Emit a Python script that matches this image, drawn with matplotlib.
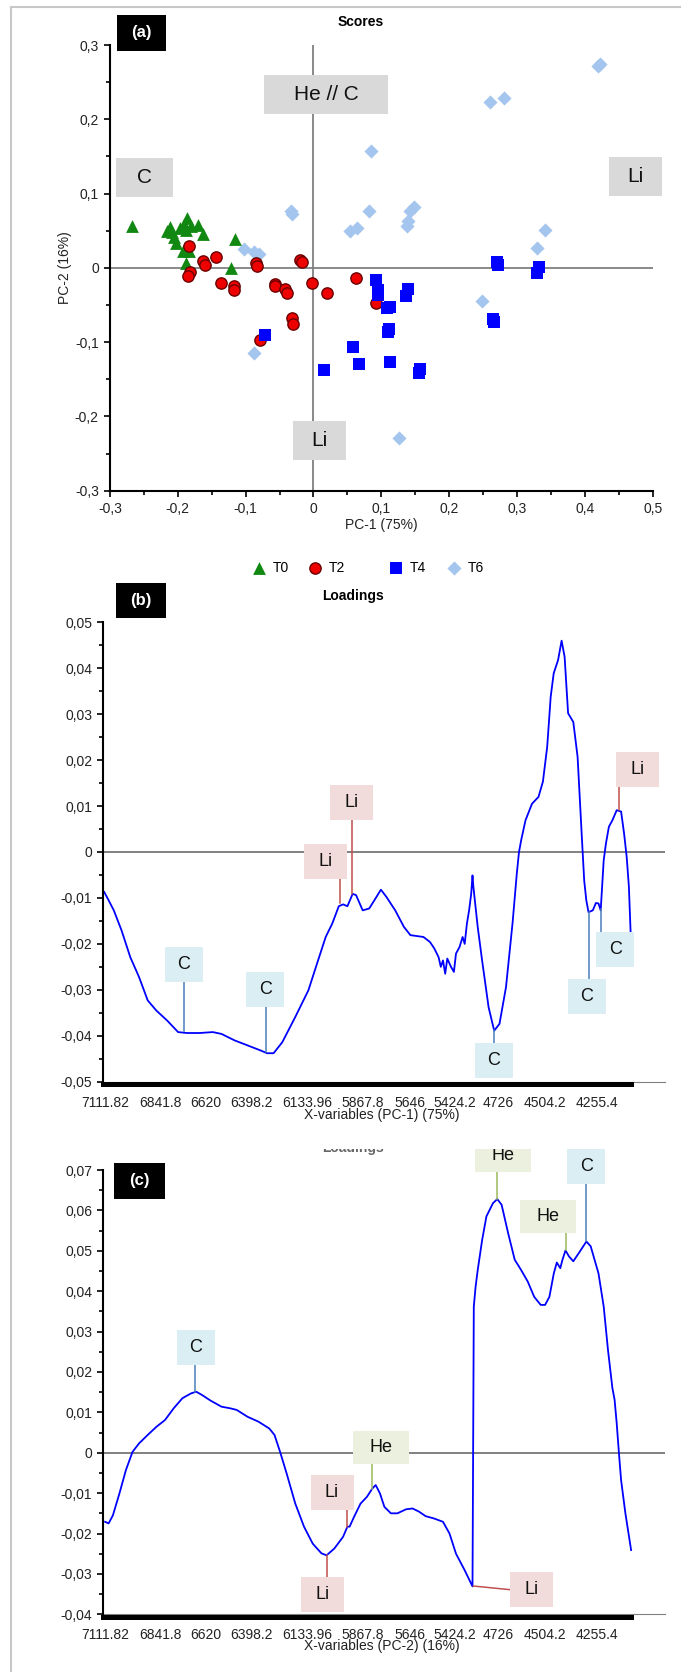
# Recreation of a three-panel PCA figure: scores (a) and loadings on PC-1 (b) and PC-2 (c)

# Imports
import matplotlib
matplotlib.use("Agg")
import matplotlib.pyplot as plt
from matplotlib.patches import Rectangle
from matplotlib.lines import Line2D
from matplotlib.ticker import MultipleLocator
# ============================================

plt.rcParams['font.family'] = ['Liberation Sans', 'DejaVu Sans']

# Data - scores (a)
t0_x = [-0.267, -0.2155, -0.2116, -0.208, -0.2055, -0.203, -0.196, -0.191, -0.186,
        -0.1885, -0.181, -0.193, -0.1836, -0.1885, -0.170, -0.163, -0.115, -0.122]
t0_y = [0.0558, 0.050, 0.0545, 0.048, 0.041, 0.034, 0.054, 0.059, 0.067,
        0.051, 0.057, 0.023, 0.023, 0.006, 0.0576, 0.0455, 0.039, 0.000]

t2_x = [-0.1836, -0.182, -0.185, -0.163, -0.1605, -0.1433, -0.137, -0.1173, -0.1173,
        -0.0854, -0.083, -0.0574, -0.056, -0.0417, -0.0383, -0.0196, -0.0172, -0.0025,
        0.0196, 0.0624, 0.0918, -0.031, -0.0295, -0.0795]
t2_y = [0.030, -0.006, -0.011, 0.0098, 0.004, 0.0152, -0.0205, -0.025, -0.030,
        0.006, 0.002, -0.0214, -0.025, -0.0278, -0.0336, 0.0112, 0.008, -0.021,
        -0.0336, -0.013, -0.047, -0.068, -0.075, -0.097]

t4_x = [0.0923, 0.0948, 0.0955, 0.108, 0.113, 0.139, 0.1365, 0.1115, 0.110, 0.058,
        0.0157, 0.0673, 0.113, 0.157, 0.156, 0.270, 0.2726, 0.265, 0.266, 0.332,
        0.3297, -0.071]
t4_y = [-0.0166, -0.030, -0.036, -0.054, -0.0525, -0.0278, -0.038, -0.0817, -0.087,
        -0.106, -0.1377, -0.130, -0.1265, -0.1368, -0.1413, 0.008, 0.004, -0.0695,
        -0.073, 0.001, -0.007, -0.090]

t6_x = [0.4187, 0.4218, 0.2607, 0.2803, 0.0853, -0.0326, -0.0323, 0.0813, 0.0544,
        0.0642, 0.1477, 0.1428, 0.140, 0.138, -0.103, -0.087, -0.0806, 0.329, 0.3418,
        -0.0883, 0.249, 0.1255]
t6_y = [0.2722, 0.2745, 0.2229, 0.2288, 0.157, 0.0771, 0.0726, 0.0762, 0.0502,
        0.0538, 0.0816, 0.0771, 0.0636, 0.0569, 0.0256, 0.021, 0.019, 0.027, 0.0511,
        -0.1144, -0.045, -0.2288]

groups = ['T0', 'T2', 'T4', 'T6']

a_xticks = [-0.3, -0.2, -0.1, 0.0, 0.1, 0.2, 0.3, 0.4, 0.5]
a_xlabels = ['-0,3', '-0,2', '-0,1', '0', '0,1', '0,2', '0,3', '0,4', '0,5']
a_yticks = [-0.3, -0.2, -0.1, 0.0, 0.1, 0.2, 0.3]
a_ylabels = ['-0,3', '-0,2', '-0,1', '0', '0,1', '0,2', '0,3']

# Data - loadings (variable index along the spectrum)
var_ticks = [1.7, 57.3, 102.9, 148.5, 204.1, 259.3, 307.0, 351.3, 394.8, 441.7, 493.8]
var_labels = ['7111.82', '6841.8', '6620', '6398.2', '6133.96', '5867.8', '5646',
              '5424.2', '4726', '4504.2', '4255.4']

pc1_v = [0.8, 5.2, 10.4, 18.2, 26.9, 35.6, 44.3, 52.9, 63.8, 74.7,
         83.4, 96.4, 109.4, 118.1, 131.1, 144.2, 157.2, 163.7, 170.2, 178.9,
         191.9, 205.0, 213.6, 222.3, 228.8, 235.4, 239.7, 244.0, 249.3, 252.7,
         259.3, 265.8, 271.0, 277.5, 283.1, 291.8, 300.5, 307.0, 320.1, 326.6,
         330.9, 335.2, 337.4, 339.6, 341.8, 343.9, 347.4, 350.5, 352.6, 356.1,
         359.2, 361.3, 363.5, 365.7, 367.8, 369.1, 370.0, 374.3, 378.7, 385.2,
         390.8, 396.1, 402.6, 409.1, 413.4, 415.6, 417.8, 422.1, 428.6, 435.1,
         439.5, 443.8, 447.3, 450.3, 454.7, 458.2, 461.2, 464.7, 469.9, 474.2,
         478.6, 480.8, 482.9, 485.1, 489.4, 492.5, 495.1, 497.3, 500.3, 502.5,
         505.5, 509.0, 513.3, 517.7, 520.7, 523.3, 525.5, 527.2]
pc1_load = [-0.0087, -0.0105, -0.0127, -0.0171, -0.0229, -0.0272, -0.0323, -0.0345, -0.0367, -0.0392,
            -0.0394, -0.0394, -0.0392, -0.0396, -0.0410, -0.0421, -0.0432, -0.0438, -0.0438, -0.0414,
            -0.0359, -0.0301, -0.0243, -0.0185, -0.0156, -0.0118, -0.0114, -0.0118, -0.0091, -0.0094,
            -0.0127, -0.0123, -0.0105, -0.0082, -0.0098, -0.0127, -0.0163, -0.0181, -0.0185, -0.0196,
            -0.0210, -0.0229, -0.0250, -0.0236, -0.0265, -0.0232, -0.0249, -0.0261, -0.0221, -0.0207,
            -0.0185, -0.0200, -0.0156, -0.0127, -0.0091, -0.0051, -0.0076, -0.0163, -0.0236, -0.0338,
            -0.0389, -0.0374, -0.0294, -0.0156, -0.0047, 0.0000, 0.0026, 0.0069, 0.0105, 0.0120,
            0.0153, 0.0229, 0.0338, 0.0389, 0.0418, 0.0460, 0.0425, 0.0302, 0.0283, 0.0207,
            0.0026, -0.0062, -0.0105, -0.0131, -0.0127, -0.0111, -0.0112, -0.0127, -0.0018, 0.0018,
            0.0055, 0.0069, 0.0091, 0.0088, 0.0040, -0.0011, -0.0076, -0.0174]

pc2_v = [1.7, 5.2, 9.5, 16.0, 22.5, 29.1, 35.6, 44.3, 52.9, 61.6,
         70.3, 79.0, 87.7, 92.9, 98.6, 107.2, 118.1, 126.8, 133.3, 144.2,
         155.0, 165.9, 171.1, 176.7, 183.2, 191.9, 200.6, 209.3, 218.0, 223.2,
         231.0, 239.7, 244.0, 246.2, 250.6, 257.1, 263.6, 268.8, 272.3, 276.6,
         281.0, 287.5, 294.0, 302.7, 309.2, 315.7, 322.2, 330.9, 339.6, 346.1,
         352.6, 361.3, 369.1, 370.4, 372.2, 374.3, 378.7, 383.0, 389.6, 393.9,
         398.2, 404.7, 411.3, 417.8, 424.3, 430.8, 437.3, 441.7, 446.0, 450.4,
         453.4, 456.9, 459.1, 462.1, 465.6, 469.9, 476.4, 483.0, 487.3, 495.1,
         500.3, 504.6, 509.0, 511.2, 513.3, 515.5, 517.7, 522.0, 527.7]
pc2_load = [-0.0171, -0.0175, -0.0155, -0.0101, -0.0043, 0.0002, 0.0023, 0.0044, 0.0064, 0.0081,
            0.0110, 0.0135, 0.0147, 0.0151, 0.0143, 0.0129, 0.0114, 0.0110, 0.0106, 0.0089,
            0.0077, 0.0060, 0.0044, 0.0002, -0.0051, -0.0126, -0.0183, -0.0225, -0.0249, -0.0254,
            -0.0237, -0.0208, -0.0183, -0.0183, -0.0159, -0.0126, -0.0109, -0.0089, -0.0080, -0.0101,
            -0.0134, -0.0150, -0.0150, -0.0140, -0.0138, -0.0146, -0.0157, -0.0163, -0.0171, -0.0200,
            -0.0250, -0.0291, -0.0331, 0.0362, 0.0411, 0.0452, 0.0526, 0.0585, 0.0618, 0.0628,
            0.0614, 0.0544, 0.0478, 0.0452, 0.0424, 0.0386, 0.0366, 0.0366, 0.0386, 0.0444,
            0.0471, 0.0457, 0.0478, 0.0501, 0.0486, 0.0474, 0.0498, 0.0523, 0.0511, 0.0444,
            0.0362, 0.0254, 0.0160, 0.0131, 0.0073, 0.0000, -0.0068, -0.0150, -0.0241]

b_yticks = [-0.05, -0.04, -0.03, -0.02, -0.01, 0.0, 0.01, 0.02, 0.03, 0.04, 0.05]
b_ylabels = ['-0,05', '-0,04', '-0,03', '-0,02', '-0,01', '0', '0,01', '0,02', '0,03', '0,04', '0,05']
c_yticks = [-0.04, -0.03, -0.02, -0.01, 0.0, 0.01, 0.02, 0.03, 0.04, 0.05, 0.06, 0.07]
c_ylabels = ['-0,04', '-0,03', '-0,02', '-0,01', '0', '0,01', '0,02', '0,03', '0,04', '0,05', '0,06', '0,07']

# Peak annotations: label, point on the curve, box centre
a_tags = [('He // C', (0.019, 0.2332)), ('C', (-0.2496, 0.1222)),
          ('Li', (0.4748, 0.1236)), ('Li', (0.009, -0.2324))]
b_tags = [('Li', (248.4, -0.0091), (247.9, 0.0107)),
          ('Li', (236.6, -0.0112), (222.4, -0.0020)),
          ('Li', (515.6, 0.0091), (534.0, 0.0179)),
          ('C', (80.7, -0.0390), (80.5, -0.0244)),
          ('C', (162.4, -0.0436), (162.0, -0.0300)),
          ('C', (390.8, -0.0388), (390.4, -0.0454)),
          ('C', (485.1, -0.0131), (483.6, -0.0315)),
          ('C', (497.3, -0.0123), (511.8, -0.0213))]
c_tags = [('He', (393.9, 0.0628), (400.0, 0.0735)),
          ('C', (483.0, 0.0523), (482.7, 0.0709)),
          ('He', (462.1, 0.0501), (444.3, 0.0585)),
          ('C', (91.2, 0.0150), (92.5, 0.0261)),
          ('He', (268.8, -0.0089), (277.3, 0.0014)),
          ('Li', (244.0, -0.0183), (228.6, -0.0099)),
          ('Li', (223.2, -0.0254), (219.1, -0.0350)),
          ('Li', (370.0, -0.0330), (428.0, -0.0339))]
# ============================================

W, H = 681, 1672
box_fill = {'C': '#daeef3', 'Li': '#f2dcdb', 'He': '#ebf1de'}
line_col = {'C': '#4a7ebb', 'Li': '#c0504d', 'He': '#9bbb59'}
box_size = {'C': (38, 35), 'Li': (43, 35), 'He': (56, 33)}


# Functions
def fx(px):
    return px / W


def fy(py):
    return 1 - py / H


def box_in_data(ax, center, w_px, h_px):
    cx, cy = ax.transData.transform(center)
    inv = ax.transData.inverted()
    x0, y0 = inv.transform((cx - w_px / 2, cy - h_px / 2))
    x1, y1 = inv.transform((cx + w_px / 2, cy + h_px / 2))
    return x0, y0, x1, y1


def tag(ax, text, center, w_px, h_px, fill, fs, anchor=None, lcol=None):
    x0, y0, x1, y1 = box_in_data(ax, center, w_px, h_px)
    ax.add_patch(Rectangle((x0, y0), x1 - x0, y1 - y0, facecolor=fill,
                           edgecolor='none', zorder=4, clip_on=False))
    ax.text(center[0], center[1], text, fontsize=fs, ha='center', va='center',
            color='#111111', zorder=5, clip_on=False)
    if anchor is not None:
        axx, axy = anchor
        if x0 <= axx <= x1:
            edge = y0 if axy < y0 else y1
            ax.plot([axx, axx], [axy, edge], color=lcol, lw=1.1, zorder=3, clip_on=False)
        else:
            edge = x0 if axx < x0 else x1
            ax.plot([axx, edge], [axy, center[1]], color=lcol, lw=1.1, zorder=3, clip_on=False)


def panel_tag(fig, text, x0, x1, y0, y1):
    fig.add_artist(Rectangle((fx(x0), fy(y1)), (x1 - x0) / W, (y1 - y0) / H,
                             transform=fig.transFigure, facecolor='black',
                             edgecolor='none', zorder=20))
    fig.text(fx((x0 + x1) / 2), fy((y0 + y1) / 2), text, color='white', fontsize=12,
             fontweight='bold', ha='center', va='center', zorder=21)


def loadings_axes(ax, v, load, yticks, ylabels, ylim):
    ax.set_xlim(0, 561.1)
    ax.set_ylim(*ylim)
    ax.axhline(0, color='#808080', lw=1.4, zorder=1)
    ax.axhline(ylim[0], color='#808080', lw=0.8, zorder=1, clip_on=False)
    ax.plot(v, load, color='#0000ff', lw=1.3, zorder=2)
    for s in ['top', 'right']:
        ax.spines[s].set_visible(False)
    ax.spines['left'].set_linewidth(1.5)
    ax.spines['bottom'].set_linewidth(3.6)
    ax.spines['bottom'].set_bounds(0, 528)
    ax.spines['bottom'].set_position(('outward', 2))
    ax.set_yticks(yticks, ylabels)
    ax.yaxis.set_minor_locator(MultipleLocator(0.005))
    ax.set_xticks(var_ticks, var_labels)
    ax.tick_params(axis='y', which='major', direction='out', length=4, width=1.2,
                   labelsize=10, labelcolor='#222222', pad=4)
    ax.tick_params(axis='y', which='minor', direction='out', length=3, width=1.2)
    ax.tick_params(axis='x', length=0, labelsize=10, labelcolor='#222222', pad=8)
# ============================================

# Main
if __name__ == '__main__':

    fig = plt.figure(figsize=(W / 100, H / 100), dpi=100)

    # (a) Scores
    ax_a = fig.add_axes([fx(109.9), fy(490.7), (652.8 - 109.9) / W, (490.7 - 45) / H])
    ax_a.set_xlim(-0.3, 0.5)
    ax_a.set_ylim(-0.3, 0.3)
    ax_a.axhline(0, color='#808080', lw=1.3, zorder=1)
    ax_a.axvline(0, color='#808080', lw=1.3, zorder=1)
    sc0 = ax_a.scatter(t0_x, t0_y, marker='^', s=85, color='#118811', linewidths=0, zorder=3)
    sc2 = ax_a.scatter(t2_x, t2_y, marker='o', s=66, color='#ee0000', edgecolors='#6a0000',
                       linewidths=1.0, zorder=3)
    sc4 = ax_a.scatter(t4_x, t4_y, marker='s', s=70, color='#0000ff', linewidths=0, zorder=3)
    sc6 = ax_a.scatter(t6_x, t6_y, marker='D', s=52, color='#a4c6ee', linewidths=0, zorder=2)
    for s in ['top', 'right']:
        ax_a.spines[s].set_visible(False)
    ax_a.spines['left'].set_linewidth(1.5)
    ax_a.spines['bottom'].set_linewidth(1.5)
    ax_a.set_xticks(a_xticks, a_xlabels)
    ax_a.set_yticks(a_yticks, a_ylabels)
    ax_a.xaxis.set_minor_locator(MultipleLocator(0.05))
    ax_a.yaxis.set_minor_locator(MultipleLocator(0.05))
    ax_a.tick_params(which='major', direction='out', length=4, width=1.2,
                     labelsize=10, labelcolor='#222222', pad=4)
    ax_a.tick_params(which='minor', direction='out', length=3, width=1.2)
    for label, center in a_tags:
        w = 124 if len(label) > 2 else (57 if label == 'C' else 53)
        tag(ax_a, label, center, w, 39, '#d9d9d9', 15)

    fig.text(fx(360.5), fy(22), 'Scores', ha='center', va='center', fontsize=10, fontweight='bold')
    fig.text(fx(381), fy(525), 'PC-1 (75%)', ha='center', va='center', fontsize=10, color='#222222')
    fig.text(fx(65), fy(268), 'PC-2 (16%)', ha='center', va='center', fontsize=10,
             rotation=90, color='#222222')

    # legend, one entry at a time to keep the original uneven spacing
    for h, lab, mx in zip([sc0, sc2, sc4, sc6], groups, [259.3, 314.9, 396.0, 453.9]):
        fig.legend([h], [lab], loc='center left', bbox_to_anchor=(fx(mx - 7), fy(568)),
                   frameon=False, fontsize=10, handlelength=1.0, handletextpad=0.5,
                   borderpad=0, borderaxespad=0, scatterpoints=1)

    # (b) Loadings PC-1
    ax_b = fig.add_axes([fx(103.4), fy(1081.7), (664.5 - 103.4) / W, (1081.7 - 622.3) / H])
    loadings_axes(ax_b, pc1_v, pc1_load, b_yticks, b_ylabels, (-0.05, 0.05))
    for label, anchor, center in b_tags:
        w, h = box_size[label]
        tag(ax_b, label, center, w, h, box_fill[label], 13, anchor, line_col[label])
    fig.text(fx(352.7), fy(596), 'Loadings', ha='center', va='center', fontsize=10, fontweight='bold')
    fig.text(fx(382), fy(1115), 'X-variables (PC-1) (75%)', ha='center', va='center',
             fontsize=10, color='#222222')

    # (c) Loadings PC-2
    ax_c = fig.add_axes([fx(103.4), fy(1614.3), (664.5 - 103.4) / W, (1614.3 - 1170) / H])
    loadings_axes(ax_c, pc2_v, pc2_load, c_yticks, c_ylabels, (-0.04, 0.07))
    for label, anchor, center in c_tags:
        w, h = box_size[label]
        tag(ax_c, label, center, w, h, box_fill[label], 13, anchor, line_col[label])
    fig.text(fx(352.7), fy(1148), 'Loadings', ha='center', va='center', fontsize=10,
             fontweight='bold', color='#666666')
    fig.text(fx(382), fy(1646), 'X-variables (PC-2) (16%)', ha='center', va='center',
             fontsize=10, color='#222222')
    # the top of panel (c) is cut off in the source figure
    fig.add_artist(Rectangle((fx(14), fy(1149)), 1 - fx(14), (1149 - 1125) / H,
                             transform=fig.transFigure, facecolor='white',
                             edgecolor='none', zorder=10))

    # panel letters
    panel_tag(fig, '(a)', 117.3, 166.3, 15, 51)
    panel_tag(fig, '(b)', 116.0, 166.3, 583, 618)
    panel_tag(fig, '(c)', 113.8, 165.0, 1163, 1199)

    # outer frame (left and top)
    fig.add_artist(Line2D([fx(11), fx(11)], [fy(7), 0], transform=fig.transFigure,
                          color='#c8c8c8', lw=1.5, zorder=30))
    fig.add_artist(Line2D([fx(11), 1], [fy(7), fy(7)], transform=fig.transFigure,
                          color='#c8c8c8', lw=1.5, zorder=30))

    fig.savefig("out.png", dpi=100)
# ============================================
